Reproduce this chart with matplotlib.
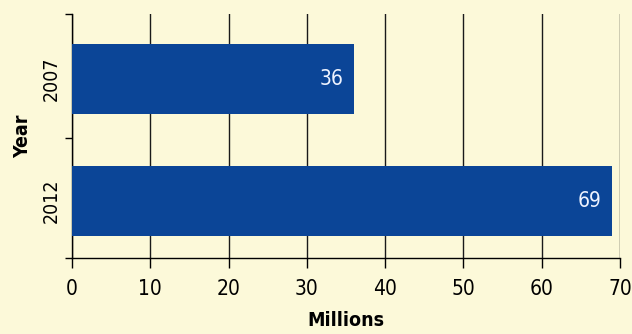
import matplotlib.pyplot as plt
import numpy as np

years = ['2007', '2012']
millions = [36, 69]

bg = '#fcf9d9'
bar_color = '#0b4597'

plt.rcParams['font.family'] = ['DejaVu Sans']
plt.rcParams['font.stretch'] = 'condensed'

fig = plt.figure(figsize=(6.32, 3.34), dpi=100, facecolor=bg)
ax = fig.add_axes([0.114, 0.228, 0.867, 0.73], facecolor=bg)

pos = np.arange(len(years))
ax.barh(pos, millions, height=0.575, color=bar_color, zorder=3)
for p, v in zip(pos, millions):
    ax.text(v - 1.3, p, str(v), ha='right', va='center', color='#eef3ff',
            fontsize=15, zorder=4)

ax.set_xlim(0, 70)
ax.set_ylim(1.47, -0.53)
ax.set_xticks(range(0, 71, 10))
ax.xaxis.grid(True, color='#1a1a1a', linewidth=1.0, zorder=1)
ax.tick_params(axis='x', length=7, width=1.0, labelsize=15, pad=8)

ax.set_yticks(pos)
ax.set_yticklabels(years, rotation=90, va='center', fontsize=14)
ax.tick_params(axis='y', which='major', length=0, pad=8)
# small marks between the year bands
ax.set_yticks([-0.53, 0.49, 1.47], minor=True)
ax.tick_params(axis='y', which='minor', length=5, width=1.0)

for s in ['top', 'right']:
    ax.spines[s].set_visible(False)
ax.spines['left'].set_linewidth(1.0)
ax.spines['bottom'].set_linewidth(1.0)

ax.set_xlabel('Millions', fontsize=14, fontweight='bold', labelpad=9)
ax.set_ylabel('Year', fontsize=14, fontweight='bold', labelpad=7)

fig.savefig('out.png', dpi=100, facecolor=bg)
